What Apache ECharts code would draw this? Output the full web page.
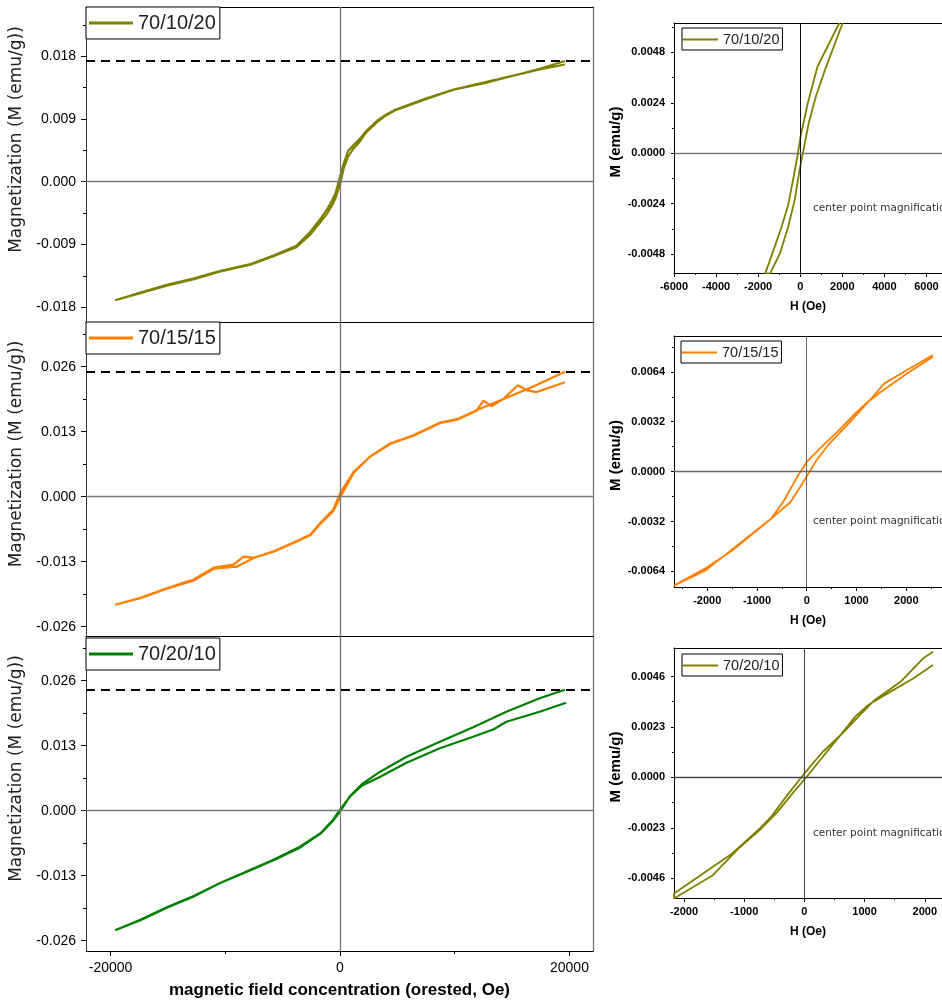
<!DOCTYPE html>
<html>
<head>
<meta charset="utf-8">
<script src="https://cdn.jsdelivr.net/npm/echarts@6/dist/echarts.min.js"></script>
<style>
  html, body { margin: 0; padding: 0; background: #ffffff; }
  #chart { width: 942px; height: 1005px; }
</style>
</head>
<body>
<div id="chart"></div>
<script>
// ---- Samples ----
const samples = ['70/10/20', '70/15/15', '70/20/10'];
const loopColors = ['#808000', '#ff8000', '#008000'];
const centerColors = ['#808000', '#ff8000', '#808000'];
// saturation magnetisation marked by the dashed lines (emu/g)
const saturation = [0.0173, 0.0250, 0.0242];

// ---- Full loops, field H (Oe) and magnetisation M (emu/g) ----
// 70/10/20
const h1020Down = [19600, 17400, 15100, 12500, 9900, 7600, 4900, 4000, 3200, 2300, 1700, 1200, 700, 300, 0, -400, -700, -1100, -1700, -2600, -3800, -5800, -7800, -10500, -12800, -15100, -17400, -19600];
const m1020Down = [0.0168, 0.0161, 0.0152, 0.0142, 0.0132, 0.0120, 0.0104, 0.0096, 0.0087, 0.0073, 0.0061, 0.0053, 0.0044, 0.0025, 0.0007, -0.0017, -0.0027, -0.0039, -0.0053, -0.0072, -0.0092, -0.0106, -0.0118, -0.0128, -0.0139, -0.0148, -0.0159, -0.0170];
const h1020Up = [-19600, -17400, -15100, -12800, -10500, -7800, -5800, -3800, -2600, -1700, -1100, -700, -400, 0, 300, 700, 1200, 1700, 2300, 3200, 4000, 4900, 7600, 9900, 12500, 15100, 17400, 19600];
const m1020Up = [-0.0171, -0.0160, -0.0149, -0.0140, -0.0129, -0.0119, -0.0107, -0.0094, -0.0076, -0.0058, -0.0045, -0.0034, -0.0024, -0.0004, 0.0018, 0.0036, 0.0048, 0.0057, 0.0071, 0.0085, 0.0095, 0.0103, 0.0119, 0.0132, 0.0141, 0.0152, 0.0162, 0.0173];
// 70/15/15
const h1515Down = [19600, 17100, 16400, 15500, 14200, 13200, 12500, 11900, 10200, 8700, 6400, 4400, 2600, 1200, 0, -600, -1700, -2600, -4100, -5800, -7500, -8400, -9300, -11000, -12800, -13400, -15100, -17400, -19600];
const m1515Down = [0.0229, 0.0209, 0.0212, 0.0223, 0.0195, 0.0181, 0.0192, 0.0172, 0.0154, 0.0147, 0.0122, 0.0106, 0.0080, 0.0050, 0.0006, -0.0026, -0.0052, -0.0076, -0.0092, -0.0109, -0.0122, -0.0120, -0.0136, -0.0142, -0.0166, -0.0170, -0.0183, -0.0202, -0.0216];
const h1515Up = [-19600, -17400, -15100, -12800, -11000, -9000, -7500, -5800, -4100, -2600, -1700, -600, 0, 1200, 2600, 4400, 6400, 8700, 10200, 11900, 14200, 16800, 19600];
const m1515Up = [-0.0217, -0.0203, -0.0184, -0.0168, -0.0144, -0.0140, -0.0122, -0.0110, -0.0093, -0.0077, -0.0054, -0.0029, -0.0002, 0.0048, 0.0080, 0.0107, 0.0123, 0.0148, 0.0155, 0.0173, 0.0195, 0.0220, 0.0250];
// 70/20/10
const h2010Down = [19700, 17400, 14500, 13400, 11600, 8700, 5800, 3500, 1900, 900, 0, -600, -1700, -3500, -5800, -8100, -10500, -12800, -15100, -17400, -19600];
const m2010Down = [0.0216, 0.0198, 0.0178, 0.0163, 0.0148, 0.0125, 0.0096, 0.0068, 0.0050, 0.0029, 0.0002, -0.0018, -0.0045, -0.0072, -0.0098, -0.0121, -0.0145, -0.0171, -0.0193, -0.0218, -0.0239];
const h2010Up = [-19600, -17400, -15100, -12800, -10500, -8100, -5800, -3500, -1700, -600, 0, 900, 1900, 3500, 5800, 8700, 11600, 14500, 17400, 19600];
const m2010Up = [-0.0239, -0.0219, -0.0194, -0.0172, -0.0145, -0.0122, -0.0099, -0.0074, -0.0046, -0.0020, -0.0002, 0.0030, 0.0053, 0.0078, 0.0108, 0.0138, 0.0167, 0.0198, 0.0225, 0.0242];

// ---- Centre of each loop (magnified insets) ----
const c1020DownH = [1860, 823, 358, 14, -107, -340, -572, -884, -1270, -1660];
const c1020DownM = [0.0062, 0.00413, 0.00238, 0.00079, 0.0, -0.00127, -0.00246, -0.0035, -0.00461, -0.00572];
const c1020UpH = [-1428, -963, -572, -264, -31, 124, 403, 744, 1178, 2015];
const c1020UpM = [-0.00572, -0.00477, -0.0035, -0.00223, -0.0008, 0.0, 0.00143, 0.0027, 0.00397, 0.0062];

const c1515DownH = [2536, 2015, 1561, 1300, 976, 650, 260, 0, -195, -456, -716, -1042, -1496, -2017, -2667];
const c1515DownM = [0.00748, 0.00652, 0.00566, 0.0047, 0.00373, 0.00266, 0.00148, 0.00062, -0.00035, -0.00185, -0.00302, -0.00388, -0.00506, -0.00617, -0.00731];
const c1515UpH = [-2667, -2017, -1106, -716, -326, -131, 32, 195, 455, 845, 1235, 1494, 2015, 2536];
const c1515UpM = [-0.00742, -0.0063, -0.00399, -0.00302, -0.00195, -0.00099, -0.00013, 0.00073, 0.0018, 0.00309, 0.00448, 0.00512, 0.0063, 0.00737];

const c2010DownH = [2136, 1974, 1597, 1168, 898, 629, 306, 0, -284, -553, -768, -1198, -2166];
const c2010DownM = [0.00573, 0.00543, 0.00436, 0.00353, 0.00277, 0.002, 0.00117, 0.00018, -0.00081, -0.0018, -0.0024, -0.00347, -0.00529];
const c2010UpH = [-2166, -1521, -1091, -715, -445, -177, 39, 306, 576, 845, 1060, 1382, 1813, 2136];
const c2010UpM = [-0.00552, -0.00446, -0.00324, -0.00233, -0.00157, -0.00066, 0.00003, 0.00094, 0.00185, 0.00277, 0.0033, 0.00383, 0.00452, 0.00512];

// ---- Tick values ----
const loopFieldTicks = [-20000, 0, 20000];
const loopFieldMinor = [-10000, 10000];
const m1020Ticks = [-0.018, -0.009, 0, 0.009, 0.018];
const m1020Minor = [-0.0135, -0.0045, 0.0045, 0.0135, 0.0225];
const mWideTicks = [-0.026, -0.013, 0, 0.013, 0.026];
const mWideMinor = [-0.0195, -0.0065, 0.0065, 0.0195, 0.0325];
const c1020FieldTicks = [-6000, -4000, -2000, 0, 2000, 4000, 6000];
const c1020FieldMinor = [-5000, -3000, -1000, 1000, 3000, 5000];
const c1020MTicks = [-0.0048, -0.0024, 0, 0.0024, 0.0048];
const c1020MMinor = [-0.0036, -0.0012, 0.0012, 0.0036, 0.006];
const c1515FieldTicks = [-2000, -1000, 0, 1000, 2000];
const c1515FieldMinor = [-2500, -1500, -500, 500, 1500, 2500];
const c1515MTicks = [-0.0064, -0.0032, 0, 0.0032, 0.0064];
const c1515MMinor = [-0.0048, -0.0016, 0.0016, 0.0048, 0.008];
const c2010FieldTicks = [-2000, -1000, 0, 1000, 2000];
const c2010FieldMinor = [-1500, -500, 500, 1500];
const c2010MTicks = [-0.0046, -0.0023, 0, 0.0023, 0.0046];
const c2010MMinor = [-0.00345, -0.00115, 0.00115, 0.00345];

const pairs = (h, m) => h.map((v, i) => [v, m[i]]);
const loop = (hd, md, hu, mu) => pairs(hd, md).concat(pairs(hu, mu));

const loops = [
  loop(h1020Down, m1020Down, h1020Up, m1020Up),
  loop(h1515Down, m1515Down, h1515Up, m1515Up),
  loop(h2010Down, m2010Down, h2010Up, m2010Up)
];
const centers = [
  loop(c1020DownH, c1020DownM, c1020UpH, c1020UpM),
  loop(c1515DownH, c1515DownM, c1515UpH, c1515UpM),
  loop(c2010DownH, c2010DownM, c2010UpH, c2010UpM)
];

// ---- Panel layout ----
const panels = [
  // full loops, left column
  { grid: { left: 86, top: 7, width: 507, height: 315 }, x: [-22140, 22050], y: [-0.02012, 0.02505],
    xt: loopFieldTicks, xm: loopFieldMinor, yt: m1020Ticks, ym: m1020Minor, big: true, xLabels: false },
  { grid: { left: 86, top: 322, width: 507, height: 314 }, x: [-22140, 22050], y: [-0.02786, 0.03494],
    xt: loopFieldTicks, xm: loopFieldMinor, yt: mWideTicks, ym: mWideMinor, big: true, xLabels: false },
  { grid: { left: 86, top: 636, width: 507, height: 315 }, x: [-22140, 22050], y: [-0.02806, 0.03494],
    xt: loopFieldTicks, xm: loopFieldMinor, yt: mWideTicks, ym: mWideMinor, big: true, xLabels: true },
  // centre magnifications, right column
  { grid: { left: 674, top: 23, width: 276, height: 250 }, x: [-6000, 6740], y: [-0.0057, 0.0062],
    xt: c1020FieldTicks, xm: c1020FieldMinor, yt: c1020MTicks, ym: c1020MMinor, big: false, xLabels: true,
    vZero: '#111', hZero: '#777' },
  { grid: { left: 674, top: 336, width: 276, height: 251 }, x: [-2667, 2718], y: [-0.0074, 0.0087],
    xt: c1515FieldTicks, xm: c1515FieldMinor, yt: c1515MTicks, ym: c1515MMinor, big: false, xLabels: true,
    vZero: '#666', hZero: '#666' },
  { grid: { left: 674, top: 648, width: 276, height: 250 }, x: [-2166, 2286], y: [-0.0055, 0.0059],
    xt: c2010FieldTicks, xm: c2010FieldMinor, yt: c2010MTicks, ym: c2010MMinor, big: false, xLabels: true,
    vZero: '#444', hZero: '#444' }
];

const bigFont = 'Liberation Sans';
const xAxes = [], yAxes = [], grids = [], series = [], legends = [];

panels.forEach((p, g) => {
  grids.push(Object.assign({ containLabel: false }, p.grid));
  const tickColor = '#000';
  const bigLabel = { fontFamily: bigFont, fontSize: 14, color: '#000' };
  const smallLabel = { fontFamily: bigFont, fontSize: 11, fontWeight: 'bold', color: '#000' };
  const lbl = p.big ? bigLabel : smallLabel;
  const yDigits = p.big ? 3 : 4;

  // x: major, minor, top border
  xAxes.push({
    gridIndex: g, type: 'value', min: p.x[0], max: p.x[1], position: 'bottom',
    axisLine: { show: true, onZero: false, lineStyle: { color: '#000', width: 1 } },
    axisTick: { show: p.big ? p.xLabels : true, inside: false, length: p.big ? 5 : 4, customValues: p.xt, lineStyle: { color: tickColor } },
    axisLabel: Object.assign({ show: p.xLabels, customValues: p.xt, margin: p.big ? 10 : 8, formatter: v => String(v) }, lbl),
    splitLine: { show: false },
    name: p.big ? (p.xLabels ? 'magnetic field concentration (orested, Oe)' : '') : 'H (Oe)',
    nameLocation: 'middle', nameGap: p.big ? 31 : 28,
    nameTextStyle: p.big
      ? { fontFamily: bigFont, fontSize: 17, fontWeight: 'bold', color: '#000' }
      : { fontFamily: bigFont, fontSize: 12, fontWeight: 'bold', color: '#000' }
  });
  xAxes.push({
    gridIndex: g, type: 'value', min: p.x[0], max: p.x[1], position: 'bottom',
    axisLine: { show: false, onZero: false },
    axisTick: { show: p.big ? p.xLabels : true, inside: false, length: p.big ? 3 : 2, customValues: p.xm, lineStyle: { color: tickColor } },
    axisLabel: { show: false }, splitLine: { show: false }
  });
  xAxes.push({
    gridIndex: g, type: 'value', min: p.x[0], max: p.x[1], position: 'top',
    axisLine: { show: true, onZero: false, lineStyle: { color: '#000', width: 1 } },
    axisTick: { show: false }, axisLabel: { show: false }, splitLine: { show: false }
  });

  // y: major, minor, right border
  yAxes.push({
    gridIndex: g, type: 'value', min: p.y[0], max: p.y[1], position: 'left',
    axisLine: { show: true, onZero: false, lineStyle: { color: p.big ? '#333' : '#000', width: 1 } },
    axisTick: { show: true, inside: false, length: p.big ? 5 : 3, customValues: p.yt, lineStyle: { color: tickColor } },
    axisLabel: Object.assign({ show: true, customValues: p.yt, margin: p.big ? 10 : 9, formatter: v => v.toFixed(yDigits) }, lbl),
    splitLine: { show: false },
    name: p.big ? 'Magnetization (M (emu/g))' : 'M (emu/g)',
    nameLocation: 'middle', nameGap: p.big ? 58 : 45,
    nameTextStyle: p.big
      ? { fontFamily: 'DejaVu Sans', fontSize: 17, color: '#222', padding: [0, 0, 0, 50] }
      : { fontFamily: bigFont, fontSize: 15, fontWeight: 'bold', color: '#000', padding: [0, 0, 0, 12] }
  });
  yAxes.push({
    gridIndex: g, type: 'value', min: p.y[0], max: p.y[1], position: 'left',
    axisLine: { show: false, onZero: false },
    axisTick: { show: true, inside: false, length: p.big ? 3 : 2, customValues: p.ym, lineStyle: { color: tickColor } },
    axisLabel: { show: false }, splitLine: { show: false }
  });
  yAxes.push({
    gridIndex: g, type: 'value', min: p.y[0], max: p.y[1], position: 'right', show: p.big,
    axisLine: { show: true, onZero: false, lineStyle: { color: '#777', width: 1.3 } },
    axisTick: { show: false }, axisLabel: { show: false }, splitLine: { show: false }
  });
});

// full loops with zero lines and saturation level
samples.forEach((name, i) => {
  series.push({
    name: name, type: 'line', xAxisIndex: 3 * i, yAxisIndex: 3 * i,
    data: loops[i], symbol: 'none', smooth: false, clip: true,
    lineStyle: { color: loopColors[i], width: 2.2 }, itemStyle: { color: loopColors[i] },
    markLine: {
      silent: true, symbol: ['none', 'none'], label: { show: false }, animation: false, precision: 6,
      data: [
        { xAxis: 0, lineStyle: { color: '#777', width: 1.3, type: 'solid' } },
        { yAxis: 0, lineStyle: { color: '#777', width: 1.3, type: 'solid' } },
        { yAxis: saturation[i], lineStyle: { color: '#000', width: 2, type: [9, 6] } }
      ]
    }
  });
});
// centre magnifications
samples.forEach((name, i) => {
  const g = 3 + i;
  series.push({
    name: name, type: 'line', xAxisIndex: 3 * g, yAxisIndex: 3 * g,
    data: centers[i], symbol: 'none', smooth: false, clip: true,
    lineStyle: { color: centerColors[i], width: 1.8 }, itemStyle: { color: centerColors[i] },
    markLine: {
      silent: true, symbol: ['none', 'none'], label: { show: false }, animation: false, precision: 6,
      data: [
        { xAxis: 0, lineStyle: { color: panels[g].vZero, width: 1, type: 'solid' } },
        { yAxis: 0, lineStyle: { color: panels[g].hZero, width: 1.4, type: 'solid' } }
      ]
    }
  });
});

// one boxed legend per panel, with a plain line sample
const legendBoxes = [
  { left: 86, top: 7, big: true, i: 0 },
  { left: 86, top: 322, big: true, i: 1 },
  { left: 86, top: 638, big: true, i: 2 },
  { left: 682, top: 28, big: false, i: 0 },
  { left: 681, top: 341, big: false, i: 1 },
  { left: 682, top: 654, big: false, i: 2 }
];
legendBoxes.forEach(b => {
  const col = b.big ? loopColors[b.i] : centerColors[b.i];
  legends.push({
    left: b.left, top: b.top, orient: 'horizontal', selectedMode: false,
    backgroundColor: '#fff', borderColor: '#000', borderWidth: 1,
    padding: b.big ? [6, 4, 6, 3] : [4, 3, 3, 1],
    itemWidth: b.big ? 44 : 35, itemHeight: b.big ? 3 : 2,
    textStyle: { fontFamily: bigFont, fontSize: b.big ? 20 : 14.5, color: '#222' },
    data: [{ name: samples[b.i], icon: 'rect', itemStyle: { color: col, borderWidth: 0 } }]
  });
});

// inset annotation
const noteTops = [203, 516, 828];
const graphics = noteTops.map(t => ({
  type: 'text', left: 813, top: t, silent: true,
  style: { text: 'center point magnification', fontFamily: 'DejaVu Sans', fontSize: 10.5, fill: '#333' }
}));

const chart = echarts.init(document.getElementById('chart'), null, { renderer: 'canvas', width: 942, height: 1005 });
chart.setOption({
  backgroundColor: '#ffffff',
  animation: false,
  grid: grids,
  xAxis: xAxes,
  yAxis: yAxes,
  legend: legends,
  series: series,
  graphic: graphics
});
</script>
</body>
</html>
